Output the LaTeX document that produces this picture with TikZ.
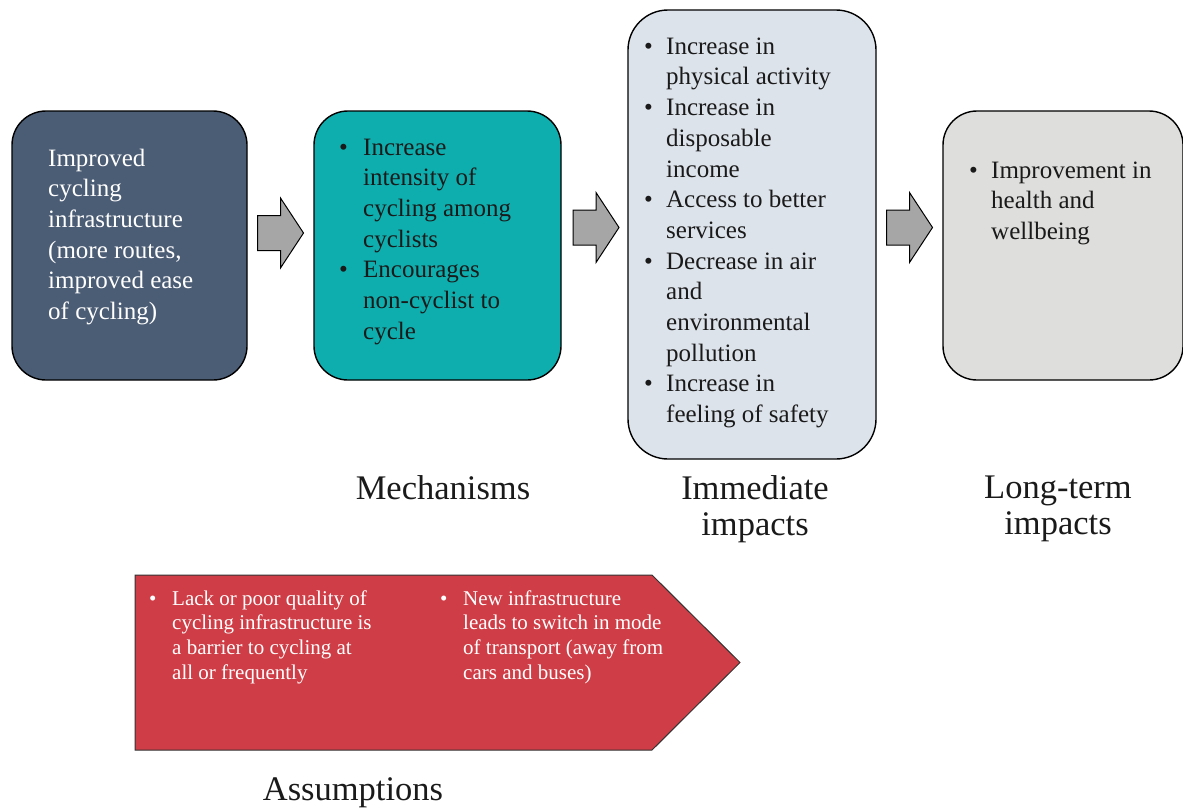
\documentclass[tikz,border=0pt]{standalone}
\usepackage{fontspec}
\setmainfont{Liberation Serif}
\usetikzlibrary{calc}
\definecolor{inputblue}{HTML}{4B5C75}
\definecolor{mechteal}{HTML}{0EAEAE}
\definecolor{immpale}{HTML}{DDE3EB}
\definecolor{longgrey}{HTML}{DEDEDC}
\definecolor{arrowgrey}{HTML}{A6A6A6}
\definecolor{assumred}{HTML}{CF3D46}
\definecolor{inktext}{HTML}{1A1A1A}
% bullet lines: \bl starts an item, \cl continues it under the text
\newlength\bind
\setlength\bind{22pt}
\newcommand\bl[1]{\strut\makebox[\bind][l]{\textbullet}#1}
\newcommand\cl[1]{\strut\hspace*{\bind}#1}
\begin{document}
\begin{tikzpicture}[x=1pt,y=-1pt,
  card/.style={draw=black, line width=1.4pt, rounded corners=34pt, inner sep=0pt},
  bodytext/.style={anchor=north west, inner sep=0pt, align=left,
    font=\fontsize{25}{30.7}\selectfont\setlength\bind{22pt}},
  redtext/.style={anchor=north west, inner sep=0pt, align=left,
    text=white, font=\fontsize{21}{24.7}\selectfont\setlength\bind{23pt}},
  stage/.style={inner sep=0pt, align=center, text=inktext, font=\fontsize{34.5}{36}\selectfont},
  pics/blockarrow/.style={code={
    \draw[fill=arrowgrey, line width=1pt, line join=miter]
      (-23,-17.5) -- (0,-17.5) -- (0,-35) -- (23,0) -- (0,35) -- (0,17.5) -- (-23,17.5) -- cycle;}}
]
\useasboundingbox (0,0) rectangle (1183,807);

% stage boxes
\node[card, fill=inputblue, minimum width=235pt, minimum height=269pt] (input) at (129.5,245.5) {};
\node[card, fill=mechteal, minimum width=247pt, minimum height=269pt] (mech) at (437.5,245.5) {};
\node[card, fill=immpale, minimum width=248pt, minimum height=449pt, rounded corners=40pt] (imm) at (752,234.5) {};
\node[card, fill=longgrey, minimum width=240pt, minimum height=269pt] (long) at (1063,245.5) {};

% block arrows between stages
\pic at ($(input.east)!0.5!(mech.west)+(0,-12.5)$) {blockarrow};
\pic at ($(mech.east)!0.5!(imm.west)+(1.5,-12.5)$) {blockarrow};
\pic at ($(imm.east)!0.5!(long.west)+(0,-12.5)$) {blockarrow};

% box texts
\node[bodytext, text=white] (inputtxt) at (48,144.5) {\strut Improved\\ \strut cycling\\ \strut infrastructure\\ \strut (more routes,\\ \strut improved ease\\ \strut of cycling)};
\node[bodytext, text=inktext, font=\fontsize{25}{30.7}\selectfont\setlength\bind{24pt}] (mechtxt) at (339,133.5) {%
  \bl{Increase}\\ \cl{intensity of}\\ \cl{cycling among}\\ \cl{cyclists}\\
  \bl{Encourages}\\ \cl{non-cyclist to}\\ \cl{cycle}};
\node[bodytext, text=inktext] (immtxt) at (644,32.5) {%
  \bl{Increase in}\\ \cl{physical activity}\\
  \bl{Increase in}\\ \cl{disposable}\\ \cl{income}\\
  \bl{Access to better}\\ \cl{services}\\
  \bl{Decrease in air}\\ \cl{and}\\ \cl{environmental}\\ \cl{pollution}\\
  \bl{Increase in}\\ \cl{feeling of safety}};
\node[bodytext, text=inktext] (longtxt) at (969,156.5) {%
  \bl{Improvement in}\\ \cl{health and}\\ \cl{wellbeing}};

% stage labels
\node[stage] (mechlab) at (443,488) {Mechanisms};
\node[stage] (immlab) at (755,509) {Immediate\\ impacts};
\node[stage] (longlab) at (1058,509) {Long-term\\ impacts};

% assumptions banner
\draw[fill=assumred, draw=black!80, line width=1pt]
  (135,575) -- (652,575) -- (740,662.5) -- (652,750) -- (135,750) -- cycle;
\node[redtext] (assum1) at (149,587.7) {\bl{Lack or poor quality of}\\ \cl{cycling infrastructure is}\\ \cl{a barrier to cycling at}\\ \cl{all or frequently}};
\node[redtext] (assum2) at (440,587.7) {\bl{New infrastructure}\\ \cl{leads to switch in mode}\\ \cl{of transport (away from}\\ \cl{cars and buses)}};
\node[stage] (assumlab) at (353,793) {Assumptions};
\end{tikzpicture}
\end{document}
